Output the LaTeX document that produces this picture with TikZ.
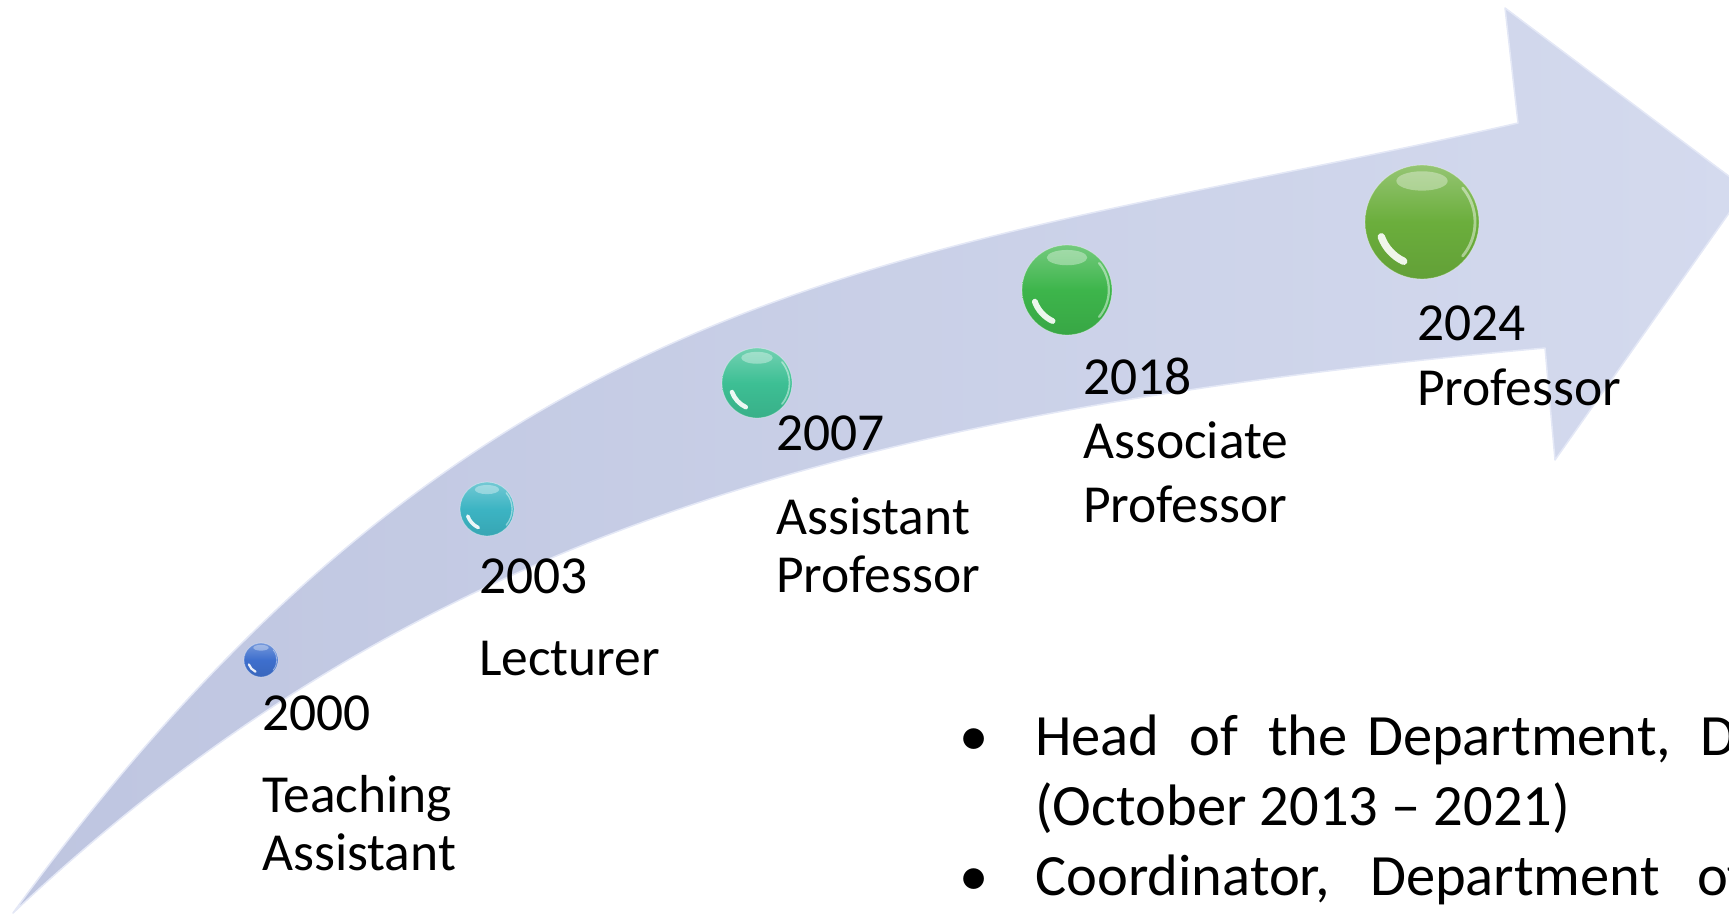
\documentclass[tikz,border=0pt]{standalone}
\usepackage{fontspec}
\setmainfont{Carlito}
\usetikzlibrary{calc}
\definecolor{arrowL}{HTML}{BEC5E0}
\definecolor{arrowR}{HTML}{D4DAEE}
\definecolor{arrowEdge}{HTML}{E4E8F6}
\definecolor{cA}{HTML}{3E6FCD}
\definecolor{cB}{HTML}{3CB4C3}
\definecolor{cC}{HTML}{3DBF94}
\definecolor{cD}{HTML}{3DB54B}
\definecolor{cE}{HTML}{6BAE3C}
\tikzset{
  ballnode/.style={circle, inner sep=0pt, draw=white, draw opacity=0.35, line width=0.8pt},
  lbl/.style={anchor=base west, inner sep=0pt, font=\fontsize{53.5}{60}\selectfont},
  bul/.style={anchor=base west, inner sep=0pt, font=\fontsize{58.5}{70}\selectfont},
}
\newcommand\glossball[5]{%
  \node[ballnode, top color=#5!72!white, bottom color=#5!92!black, middle color=#5, minimum size={2*#4pt}] (#1) at (#2,#3) {};
  \fill[white, opacity=0.35] ($(#1.center)+(0pt,{0.72*#4pt})$) ellipse [x radius={0.45*#4pt}, y radius={0.17*#4pt}];
  \draw[white, opacity=0.9, line width={0.13*#4pt}, line cap=round] ($(#1.center)+(200:{0.76*#4pt})$) arc[start angle=200, end angle=245, radius={0.76*#4pt}];
  \draw[white, opacity=0.45, line width={0.05*#4pt}, line cap=round] ($(#1.center)+(-40:{0.93*#4pt})$) arc[start angle=-40, end angle=40, radius={0.93*#4pt}];
}
\begin{document}
\begin{tikzpicture}[x=1pt,y=-1pt]
\useasboundingbox (0,0) rectangle (1729,915);
\clip (0,0) rectangle (1729,915);
% big curved arrow
\coordinate (tail) at (13,913);
\coordinate (nu) at (1518,123);
\coordinate (ht) at (1505,8);
\coordinate (tip) at (1746,189);
\coordinate (hb) at (1555,460);
\coordinate (nl) at (1545,348);
\shade[left color=arrowL, right color=arrowR, draw=arrowEdge, line width=1.5pt, line join=round]
  (tail) .. controls (493,255) and (918,260) .. (nu)
  -- (ht) -- (tip) -- (hb) -- (nl)
  .. controls (845,412) and (413,537) .. (tail) -- cycle;
% balls
\glossball{b0}{261}{660}{17}{cA}
\glossball{b1}{487}{509}{27}{cB}
\glossball{b2}{757}{383}{35}{cC}
\glossball{b3}{1067}{290}{45}{cD}
\glossball{b4}{1422}{222}{57}{cE}
% labels
\node[lbl] (y0) at (262,730) {2000};
\node[lbl] (t0a) at (262,812) {Teaching};
\node[lbl] (t0b) at (262,870) {Assistant};
\node[lbl] (y1) at (479,593) {2003};
\node[lbl] (t1) at (479,675) {Lecturer};
\node[lbl] (y2) at (776,450) {2007};
\node[lbl] (t2a) at (776,534) {Assistant};
\node[lbl] (t2b) at (776,592) {Professor};
\node[lbl] (y3) at (1083,394) {2018};
\node[lbl] (t3a) at (1083,458) {Associate};
\node[lbl] (t3b) at (1083,522) {Professor};
\node[lbl] (y4) at (1417,340) {2024};
\node[lbl] (t4) at (1417,405) {Professor};
% bullet list
\node[bul] (bu1) at (959,755) {•};
\node[bul] (l1) at (1035,755) {\makebox[154pt][l]{Head}\makebox[79pt][l]{of}\makebox[99pt][l]{the}\makebox[333pt][l]{Department,}D};
\node[bul] (l2) at (1035,825) {(October 2013 -- 2021)};
\node[bul] (bu2) at (959,895) {•};
\node[bul] (l3) at (1035,895) {\makebox[335pt][l]{Coordinator,}\makebox[327pt][l]{Department}of};
\end{tikzpicture}
\end{document}
